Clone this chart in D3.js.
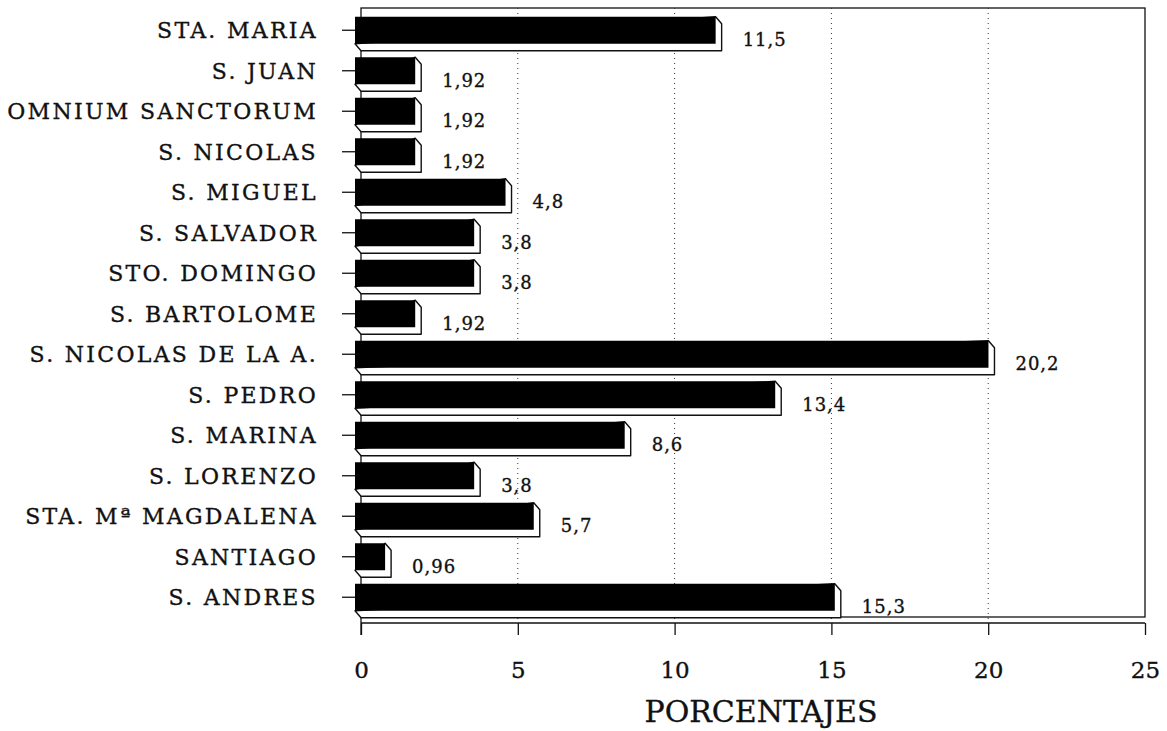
<!DOCTYPE html>
<html>
<head>
<meta charset="utf-8">
<script src="https://cdn.jsdelivr.net/npm/d3@7"></script>
<style>
  html, body { margin: 0; padding: 0; background: #fff; }
  svg { display: block; }
  text { font-family: "DejaVu Serif", serif; fill: #111; stroke: #111; stroke-width: 0.35px; }
</style>
</head>
<body>
<svg id="chart" width="1167" height="731"></svg>
<script>
// parishes, top to bottom
const parishes = [
  "STA. MARIA", "S. JUAN", "OMNIUM SANCTORUM", "S. NICOLAS", "S. MIGUEL",
  "S. SALVADOR", "STO. DOMINGO", "S. BARTOLOME", "S. NICOLAS DE LA A.",
  "S. PEDRO", "S. MARINA", "S. LORENZO", "STA. Mª MAGDALENA", "SANTIAGO", "S. ANDRES"
];
const percents = [11.5, 1.92, 1.92, 1.92, 4.8, 3.8, 3.8, 1.92, 20.2, 13.4, 8.6, 3.8, 5.7, 0.96, 15.3];
const valueLabels = ["11,5", "1,92", "1,92", "1,92", "4,8", "3,8", "3,8", "1,92", "20,2", "13,4", "8,6", "3,8", "5,7", "0,96", "15,3"];
const xTicks = [0, 5, 10, 15, 20, 25];
const axisTitle = "PORCENTAJES";

const svg = d3.select("#chart");
const wallL = 361, wallR = 1145, wallT = 8, floorY = 617, baseY = 623;
const depthX = 6, depthY = 7, front = -6; // 3d extrusion, front face shift

const x = d3.scaleLinear().domain([0, 25]).range([wallL, wallR]);
const y = d3.scaleBand().domain(parishes).range([10, 617.5])
  .paddingInner(1 / 3).paddingOuter(1 / 6);

// back wall + floor
svg.append("rect").attr("x", wallL).attr("y", wallT)
  .attr("width", wallR - wallL).attr("height", floorY - wallT)
  .attr("fill", "none").attr("stroke", "#111").attr("stroke-width", 1.3);
svg.append("line").attr("x1", wallL).attr("x2", wallR).attr("y1", baseY).attr("y2", baseY)
  .attr("stroke", "#111").attr("stroke-width", 1.3);
svg.append("line").attr("x1", wallL).attr("x2", wallL).attr("y1", floorY).attr("y2", 635)
  .attr("stroke", "#111").attr("stroke-width", 1.3);

// dotted grid
svg.selectAll("line.grid").data(xTicks.slice(1, -1)).join("line")
  .attr("class", "grid")
  .attr("x1", (d) => x(d)).attr("x2", (d) => x(d)).attr("y1", wallT).attr("y2", baseY)
  .attr("stroke", "#333").attr("stroke-width", 1).attr("stroke-dasharray", "1,4");

// x axis ticks + labels
const xAxis = d3.axisBottom(x).tickValues(xTicks).tickSize(12).tickFormat(d3.format("d"));
const gx = svg.append("g").attr("transform", `translate(0,${baseY})`).call(xAxis);
gx.select(".domain").remove();
gx.selectAll(".tick line").attr("stroke", "#111").attr("stroke-width", 1.3);
gx.selectAll(".tick text").attr("y", 0).attr("dy", 55)
  .attr("font-size", 23).attr("fill", "#111")
  .attr("font-family", "DejaVu Serif, serif");

// y axis ticks + category labels
const yAxis = d3.axisLeft(y).tickSize(13).tickPadding(24);
const gy = svg.append("g").attr("transform", `translate(${wallL + front},0)`).call(yAxis);
gy.select(".domain").remove();
gy.selectAll(".tick line").attr("stroke", "#111").attr("stroke-width", 1.3);
gy.selectAll(".tick text").attr("dy", "0.36em")
  .attr("font-size", 22).attr("letter-spacing", 2.3).attr("fill", "#111")
  .attr("font-family", "DejaVu Serif, serif");

// 3d bars
const rows = parishes.map((p, i) => ({ p, v: percents[i], lab: valueLabels[i] }));
const bars = svg.append("g").selectAll("g").data(rows).join("g");
bars.append("path")
  .attr("d", (d) => {
    const x0 = x(0) + front, x1 = x(d.v) + front;
    const t = y(d.p), b = y(d.p) + y.bandwidth();
    return `M${x1},${t} L${x1 + depthX},${t + depthY} L${x1 + depthX},${b + depthY}`
      + ` L${x0 + depthX},${b + depthY} L${x0},${b} Z`;
  })
  .attr("fill", "#fff").attr("stroke", "#111").attr("stroke-width", 1.4)
  .attr("stroke-linejoin", "round");
bars.append("rect")
  .attr("x", x(0) + front).attr("y", (d) => y(d.p))
  .attr("width", (d) => x(d.v) - x(0)).attr("height", y.bandwidth())
  .attr("fill", "#000");
bars.append("text")
  .attr("x", (d) => x(d.v) + front + 27)
  .attr("y", (d) => y(d.p) + y.bandwidth() / 2 + 16)
  .attr("font-size", 18).attr("letter-spacing", 1)
  .text((d) => d.lab);

svg.append("text").attr("x", 761).attr("y", 722).attr("text-anchor", "middle")
  .attr("font-size", 30).text(axisTitle);
</script>
</body>
</html>
